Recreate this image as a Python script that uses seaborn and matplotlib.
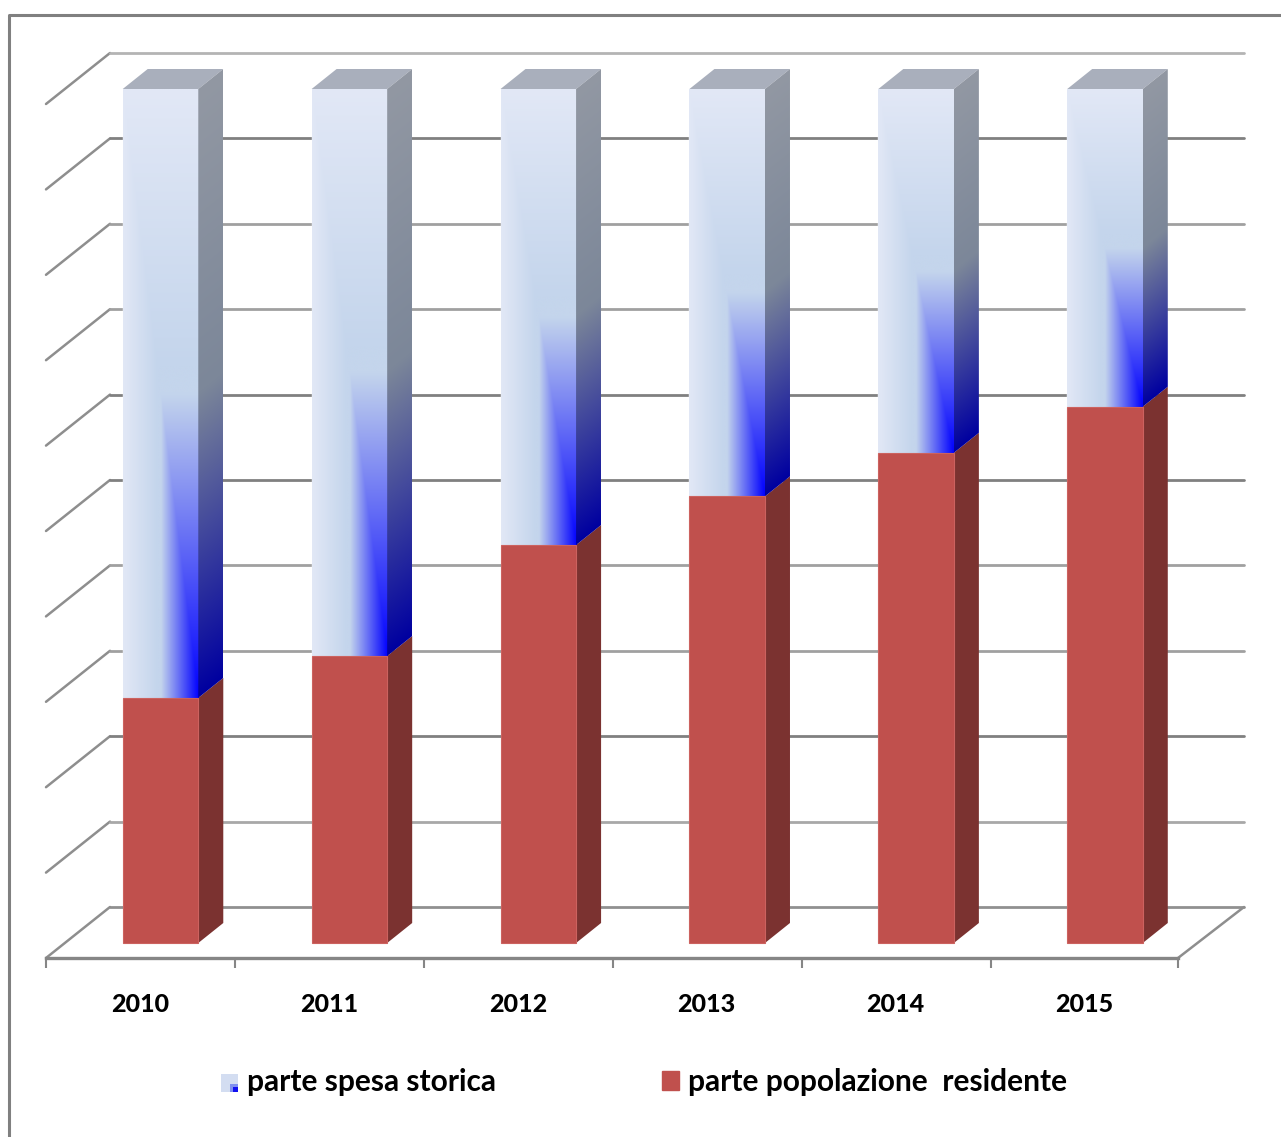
import numpy as np
import pandas as pd
import matplotlib
matplotlib.use("Agg")
import matplotlib.pyplot as plt
import seaborn as sns
from matplotlib.legend_handler import HandlerBase
from matplotlib.lines import Line2D
from matplotlib.patches import Patch, Polygon, Rectangle

years = [2010, 2011, 2012, 2013, 2014, 2015]
parte_popolazione = [28.7, 33.6, 46.6, 52.3, 57.4, 62.8]
parte_spesa = [71.3, 66.4, 53.4, 47.7, 42.6, 37.2]
grid_values = [0, 10, 20, 30, 40, 50, 60, 70, 80, 90, 100]
grid_colors = ["#909090", "#a8a8a8", "#808080", "#a0a0a0", "#a0a0a0", "#808080",
               "#808080", "#a0a0a0", "#a0a0a0", "#808080", "#b4b4b4"]

sns.set_theme(style="white")
plt.rcParams["font.family"] = ["Lato", "DejaVu Sans"]

W, H = 1281, 1137
PX_X = 188.9  # pixels per category
PX_Y = 8.54   # pixels per percent
BAR_DX, BAR_DY = 25 / PX_X, 20 / PX_Y
WALL_DX, WALL_DY = 64 / PX_X, 51 / PX_Y
FLOOR = -15 / PX_Y

LIGHT = np.array([226, 232, 246]) / 255
MID = np.array([196, 213, 236]) / 255
BLUE = np.array([0, 0, 255]) / 255
SIDE_TOP = np.array([146, 152, 163]) / 255
SIDE_MID = np.array([124, 135, 153]) / 255
DARK_BLUE = np.array([0, 0, 160]) / 255


def front_gradient(n=300):
    """Pale face that turns blue towards the lower right corner."""
    v, u = np.mgrid[0:1:n * 1j, 0:1:n * 1j]
    base = np.clip(np.minimum(u, v) * 2.2, 0, 1)[..., None]
    blue = np.minimum(np.clip((u - 0.5) * 2, 0, 1), np.clip((v - 0.5) * 2, 0, 1))[..., None]
    img = LIGHT * (1 - base) + MID * base
    return img * (1 - blue) + BLUE * blue


def side_gradient(height, n=300):
    """Darker side face, sheared along the depth of the bar."""
    yy, w = np.mgrid[1:0:n * 1j, 0:1:n * 1j]
    span = height + BAR_DY
    v = 1 - (yy * span - w * BAR_DY) / height
    v = np.clip(v, 0, 1)
    base = np.clip(v * 2, 0, 1)[..., None]
    blue = np.clip((v - 0.5) * 2, 0, 1)[..., None]
    img = SIDE_TOP * (1 - base) + SIDE_MID * base
    return img * (1 - blue) + DARK_BLUE * blue


class GradientSwatch(HandlerBase):
    def create_artists(self, legend, orig, xd, yd, width, height, fontsize, trans):
        parts = [
            Rectangle((xd, yd), width, height, fc="#d3ddf1", ec="none", transform=trans),
            Rectangle((xd + width * .55, yd), width * .45, height * .45, fc="#8090f0", ec="none", transform=trans),
            Rectangle((xd + width * .72, yd), width * .28, height * .28, fc="#1010f0", ec="none", transform=trans),
        ]
        return parts


df = pd.DataFrame({"anno": years, "popolazione": parte_popolazione, "spesa": parte_spesa})

fig = plt.figure(figsize=(W / 100, H / 100), dpi=100)
ax = fig.add_axes([46 / W, 1 - 958 / H, (1178 - 46) / W, (958 - 14) / H])
ax.patch.set_visible(False)

sns.barplot(data=df, x="anno", y="popolazione", color="#c0504d", saturation=1,
            width=0.4, ax=ax, zorder=5, edgecolor="#cc625f", linewidth=0.8)
sns.barplot(data=df, x="anno", y="spesa", bottom=df["popolazione"], color="#d3ddf1",
            saturation=1, width=0.4, ax=ax, zorder=3)
red_bars = ax.containers[0]
blue_bars = ax.containers[1]

xlim = (-114.5 / PX_X, (1178 - 160.5) / PX_X)
ylim = (-15 / PX_Y, (943 - 14) / PX_Y)

# back wall and left wall
for val, col in zip(grid_values, grid_colors):
    x0, y0 = xlim[0], FLOOR + val
    ax.plot([x0, x0 + WALL_DX], [y0, y0 + WALL_DY], color="#8e8e8e", lw=1.8, zorder=1,
            clip_on=False, solid_capstyle="round")
    ax.plot([x0 + WALL_DX, 1244 / PX_X - 160.5 / PX_X], [y0 + WALL_DY] * 2, color=col, lw=2.0,
            zorder=1, clip_on=False)
ax.plot([xlim[1], xlim[1] + 66 / PX_X], [FLOOR, FLOOR + WALL_DY], color="#8e8e8e", lw=1.8,
        zorder=1, clip_on=False)

# 3d faces of the bars
for red, blue in zip(red_bars, blue_bars):
    x1 = red.get_x() + red.get_width()
    low, mid = red.get_y(), red.get_y() + red.get_height()
    top = blue.get_y() + blue.get_height()

    ax.add_patch(Polygon([(x1, low), (x1 + BAR_DX, low + BAR_DY), (x1 + BAR_DX, mid + BAR_DY), (x1, mid)],
                         fc="#7b3230", ec="none", zorder=3, clip_on=False))
    ax.add_patch(Polygon([(blue.get_x(), top), (x1, top), (x1 + BAR_DX, top + BAR_DY),
                          (blue.get_x() + BAR_DX, top + BAR_DY)],
                         fc="#a9afbc", ec="none", zorder=3, clip_on=False))

    im = ax.imshow(front_gradient(), extent=(blue.get_x(), x1, mid, top), origin="upper",
                   aspect="auto", zorder=4, interpolation="bilinear")
    im.set_clip_path(blue)

    side = Polygon([(x1, mid), (x1 + BAR_DX, mid + BAR_DY), (x1 + BAR_DX, top + BAR_DY), (x1, top)],
                   fc="none", ec="none", transform=ax.transData)
    ax.add_patch(side)
    im2 = ax.imshow(side_gradient(top - mid), extent=(x1, x1 + BAR_DX, mid, top + BAR_DY),
                    origin="upper", aspect="auto", zorder=4, interpolation="bilinear")
    im2.set_clip_path(side)

ax.set_xlim(*xlim)
ax.set_ylim(*ylim)
ax.set(xlabel=None, ylabel=None)
ax.yaxis.set_visible(False)
sns.despine(ax=ax, left=True, right=True, top=True)
ax.spines["bottom"].set_color("#868686")
ax.spines["bottom"].set_linewidth(2.4)

bounds = [xlim[0] + i for i in range(6)] + [xlim[1]]
ax.set_xticks(bounds, labels=[""] * 7)
ax.tick_params(axis="x", which="major", length=7.5, width=1.5, color="#868686", bottom=True)
ax.set_xticks([i - 20.5 / PX_X for i in range(6)], labels=[str(y) for y in years], minor=True)
ax.tick_params(axis="x", which="minor", length=0, pad=25, labelsize=18, labelcolor="black")
for lab in ax.get_xticklabels(minor=True):
    lab.set_fontweight("black")

# outer chart frame, runs off the right and bottom of the picture
fig.add_artist(Line2D([8.5 / W, 8.5 / W, 1], [0, 1 - 14.5 / H, 1 - 14.5 / H], color="#808080", lw=2.2))

handles = [Patch(label="parte spesa storica"), Patch(color="#c0504d", label="parte popolazione  residente")]
ax.legend(handles=handles, handler_map={handles[0]: GradientSwatch()}, ncol=2, frameon=False,
          loc="center left", bbox_to_anchor=(221 / W, 1 - 1082 / H), bbox_transform=fig.transFigure,
          borderpad=0, borderaxespad=0, handlelength=0.57, handleheight=0.57,
          handletextpad=0.3, columnspacing=5.55, labelcolor="black",
          prop={"size": 21.5, "weight": "bold"})

fig.savefig("out.png", dpi=100)
